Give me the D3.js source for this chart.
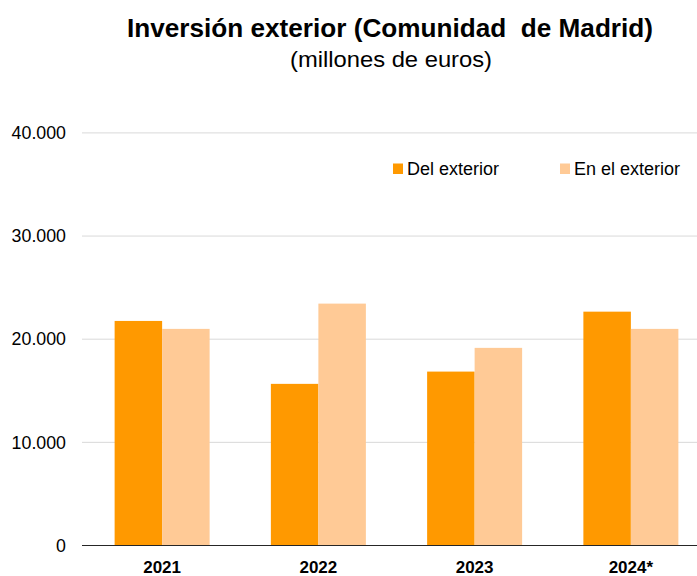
<!DOCTYPE html>
<html>
<head>
<meta charset="utf-8">
<script src="https://cdn.jsdelivr.net/npm/d3@7"></script>
<style>
    body { margin: 0; background: #fff; }
    svg { font-family: "Liberation Sans", Arial, sans-serif; }
</style>
</head>
<body>
<svg width="697" height="576"></svg>
<script>
"use strict";

// Datos (millones de euros)
var anios = ["2021", "2022", "2023", "2024*"];
var series = ["Del exterior", "En el exterior"];
var delExterior = [21770, 15670, 16860, 22670];
var enElExterior = [21000, 23450, 19160, 21000];
var ticksY = [0, 10000, 20000, 30000, 40000];

var colores = ["#ff9900", "#ffca96"];

var svg = d3.select("svg");

var y = d3.scaleLinear()
    .domain([0, 40000])
    .range([545.5, 132.9]);

// el área de gráfico original se sale un poco por la derecha
var x = d3.scaleBand()
    .domain(anios)
    .range([84, 709])
    .paddingInner(0.392)
    .paddingOuter(0.196);

var xSerie = d3.scaleBand()
    .domain(series)
    .range([0, x.bandwidth()]);

var formato = function (v) {
    return d3.format(",")(v).replace(/,/g, ".");
};

// título
svg.append("text")
    .attr("x", 390)
    .attr("y", 36.7)
    .attr("text-anchor", "middle")
    .attr("font-size", 26)
    .attr("font-weight", "bold")
    .attr("textLength", 526)
    .attr("lengthAdjust", "spacingAndGlyphs")
    .style("white-space", "pre")
    .text("Inversión exterior (Comunidad  de Madrid)");

svg.append("text")
    .attr("x", 391)
    .attr("y", 66.5)
    .attr("text-anchor", "middle")
    .attr("font-size", 22)
    .attr("textLength", 202)
    .attr("lengthAdjust", "spacingAndGlyphs")
    .text("(millones de euros)");

// rejilla
svg.append("g")
    .selectAll("line")
    .data(ticksY.slice(1))
    .enter().append("line")
    .attr("x1", 82)
    .attr("x2", 697)
    .attr("y1", function (d) { return y(d); })
    .attr("y2", function (d) { return y(d); })
    .attr("stroke", "#d9d9d9")
    .attr("stroke-width", 1);

// eje y (solo etiquetas)
svg.append("g")
    .selectAll("text")
    .data(ticksY)
    .enter().append("text")
    .attr("x", 66)
    .attr("y", function (d) { return y(d); })
    .attr("dy", "0.35em")
    .attr("text-anchor", "end")
    .attr("font-size", 17.8)
    .attr("fill", "#000")
    .text(formato);

// barras
var datos = anios.map(function (a, i) {
    return { anio: a, valores: [delExterior[i], enElExterior[i]] };
});

var grupos = svg.append("g")
    .selectAll("g")
    .data(datos)
    .enter().append("g")
    .attr("transform", function (d) { return "translate(" + x(d.anio) + ",0)"; });

grupos.selectAll("rect")
    .data(function (d) {
        return d.valores.map(function (v, j) { return { serie: series[j], valor: v, j: j }; });
    })
    .enter().append("rect")
    .attr("x", function (d) { return xSerie(d.serie); })
    .attr("y", function (d) { return y(d.valor); })
    .attr("width", xSerie.bandwidth())
    .attr("height", function (d) { return y(0) - y(d.valor); })
    .attr("fill", function (d) { return colores[d.j]; });

// línea del cero
svg.append("line")
    .attr("x1", 82)
    .attr("x2", 697)
    .attr("y1", y(0))
    .attr("y2", y(0))
    .attr("stroke", "#262626")
    .attr("stroke-width", 1.2);

// eje x
svg.append("g")
    .selectAll("text")
    .data(anios)
    .enter().append("text")
    .attr("x", function (d) { return x(d) + x.bandwidth() / 2; })
    .attr("y", 573)
    .attr("text-anchor", "middle")
    .attr("font-size", 17)
    .attr("font-weight", "bold")
    .text(function (d) { return d; });

// leyenda
var posLeyenda = [393, 560];
var leyenda = svg.append("g")
    .selectAll("g")
    .data(series)
    .enter().append("g")
    .attr("transform", function (d, i) { return "translate(" + posLeyenda[i] + ",163.5)"; });

leyenda.append("rect")
    .attr("width", 10)
    .attr("height", 10.5)
    .attr("fill", function (d, i) { return colores[i]; });

leyenda.append("text")
    .attr("x", 14)
    .attr("y", 11.7)
    .attr("font-size", 18)
    .text(function (d) { return d; });
</script>
</body>
</html>
